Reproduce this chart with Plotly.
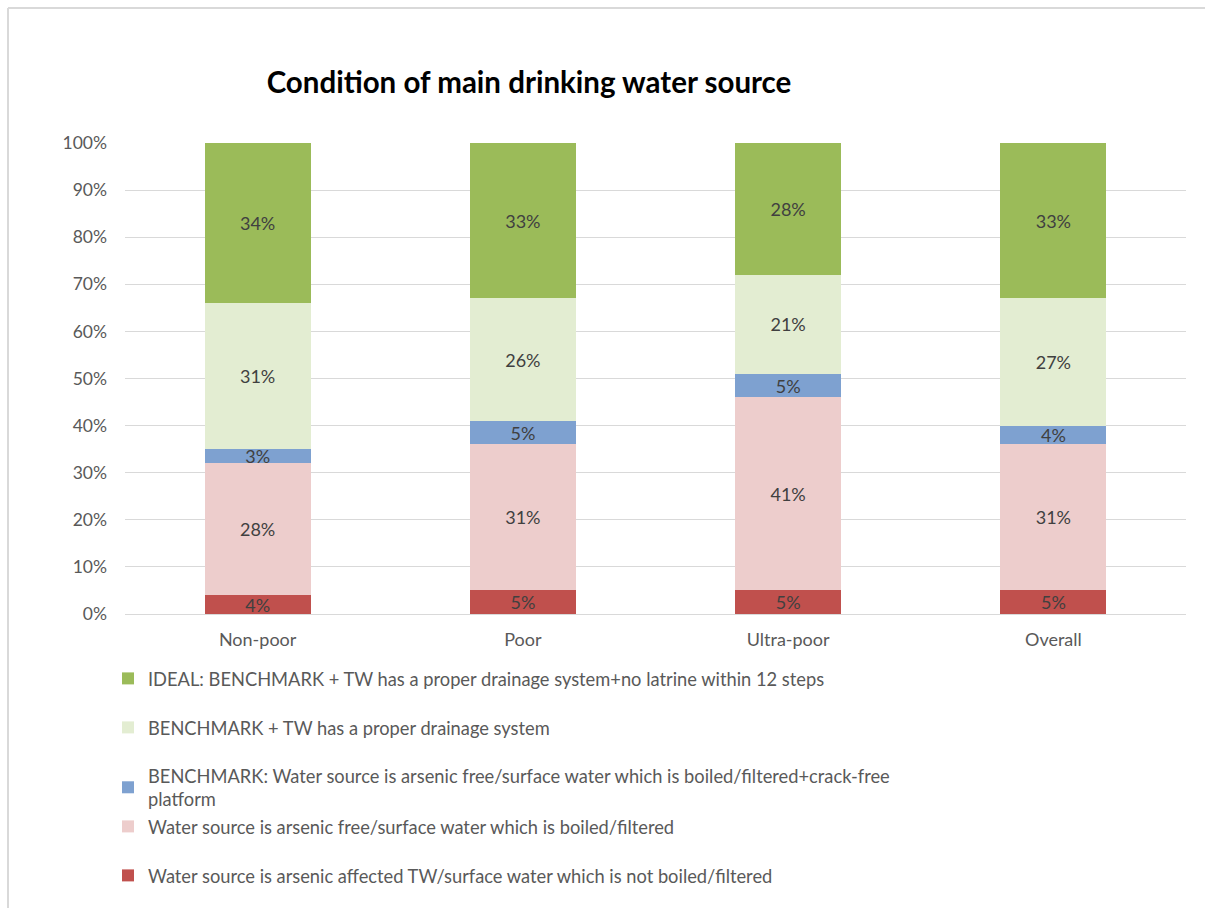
import plotly.graph_objects as go

categories = ["Non-poor", "Poor", "Ultra-poor", "Overall"]

series_names = [
    "Water source is arsenic affected TW/surface water which is not boiled/filtered",
    "Water source is arsenic free/surface water which is boiled/filtered",
    "BENCHMARK: Water source is arsenic free/surface water which is boiled/filtered+crack-free<br>platform",
    "BENCHMARK + TW has a proper drainage system",
    "IDEAL: BENCHMARK + TW has a proper drainage system+no latrine within 12 steps",
]
affected = [4, 5, 5, 5]
arsenic_free = [28, 31, 41, 31]
benchmark = [3, 5, 5, 4]
benchmark_drainage = [31, 26, 21, 27]
ideal = [34, 33, 28, 33]

series_values = [affected, arsenic_free, benchmark, benchmark_drainage, ideal]
colors = ["#C0504D", "#EDCDCC", "#7EA1D0", "#E3EDD2", "#9BBB59"]
legend_ids = ["legend5", "legend4", "legend3", "legend2", "legend"]
legend_px_y = [857, 808, 757, 709, 660]

W, H = 1205, 908
fig = go.Figure()
for name, vals, col, lg in zip(series_names, series_values, colors, legend_ids):
    fig.add_trace(go.Bar(
        x=categories, y=vals, name=name, marker_color=col,
        marker_line_width=0,
        text=vals, texttemplate="%{text}%", textposition="inside",
        insidetextanchor="middle", textangle=0, constraintext="none",
        textfont=dict(color="#404040", size=18, family="Lato"),
        legend=lg, hoverinfo="skip",
    ))

layout_legends = {}
for lg, py in zip(legend_ids, legend_px_y):
    layout_legends[lg] = dict(
        x=108 / W, y=1 - py / H, xref="container", yref="container",
        xanchor="left", yanchor="top", orientation="v",
        font=dict(family="Lato", size=18.3, color="#595959"),
        bgcolor="rgba(0,0,0,0)", itemclick=False, itemdoubleclick=False,
        visible=True,
    )

bx0 = (8 - 125) / 1061
bx1 = (1220 - 125) / 1061
by0 = (614 - 930) / 471
by1 = (614 - 8) / 471

fig.update_layout(
    width=W, height=H,
    margin=dict(l=125, r=19, t=143, b=294, autoexpand=False),
    paper_bgcolor="white", plot_bgcolor="white",
    barmode="stack", bargap=0.6, showlegend=True,
    title=dict(text="<b>Condition of main drinking water source</b>",
               x=529 / W, xanchor="center", xref="container",
               y=1 - 83 / H, yanchor="middle", yref="container",
               font=dict(family="Lato", size=29.5, color="black")),
    font=dict(family="Lato", color="#595959"),
    yaxis=dict(range=[0, 100], dtick=10, ticksuffix="%",
               showgrid=True, gridcolor="#D9D9D9", gridwidth=1,
               zeroline=True, zerolinecolor="#D9D9D9", zerolinewidth=1,
               tickfont=dict(size=17.5, color="#595959", family="Lato"),
               ticks="", showline=False, ticklabelstandoff=17),
    xaxis=dict(tickfont=dict(size=18, color="#595959", family="Lato"),
               showgrid=False, showline=False, ticks="", ticklabelstandoff=13),
    shapes=[
        dict(type="line", xref="paper", yref="paper",
             x0=bx0, x1=bx1, y0=by1, y1=by1,
             line=dict(color="#D9D9D9", width=2), layer="below"),
        dict(type="line", xref="paper", yref="paper",
             x0=bx0, x1=bx0, y0=by0, y1=by1,
             line=dict(color="#D9D9D9", width=2), layer="below"),
    ],
    **layout_legends,
)

fig.write_html("out.html")
